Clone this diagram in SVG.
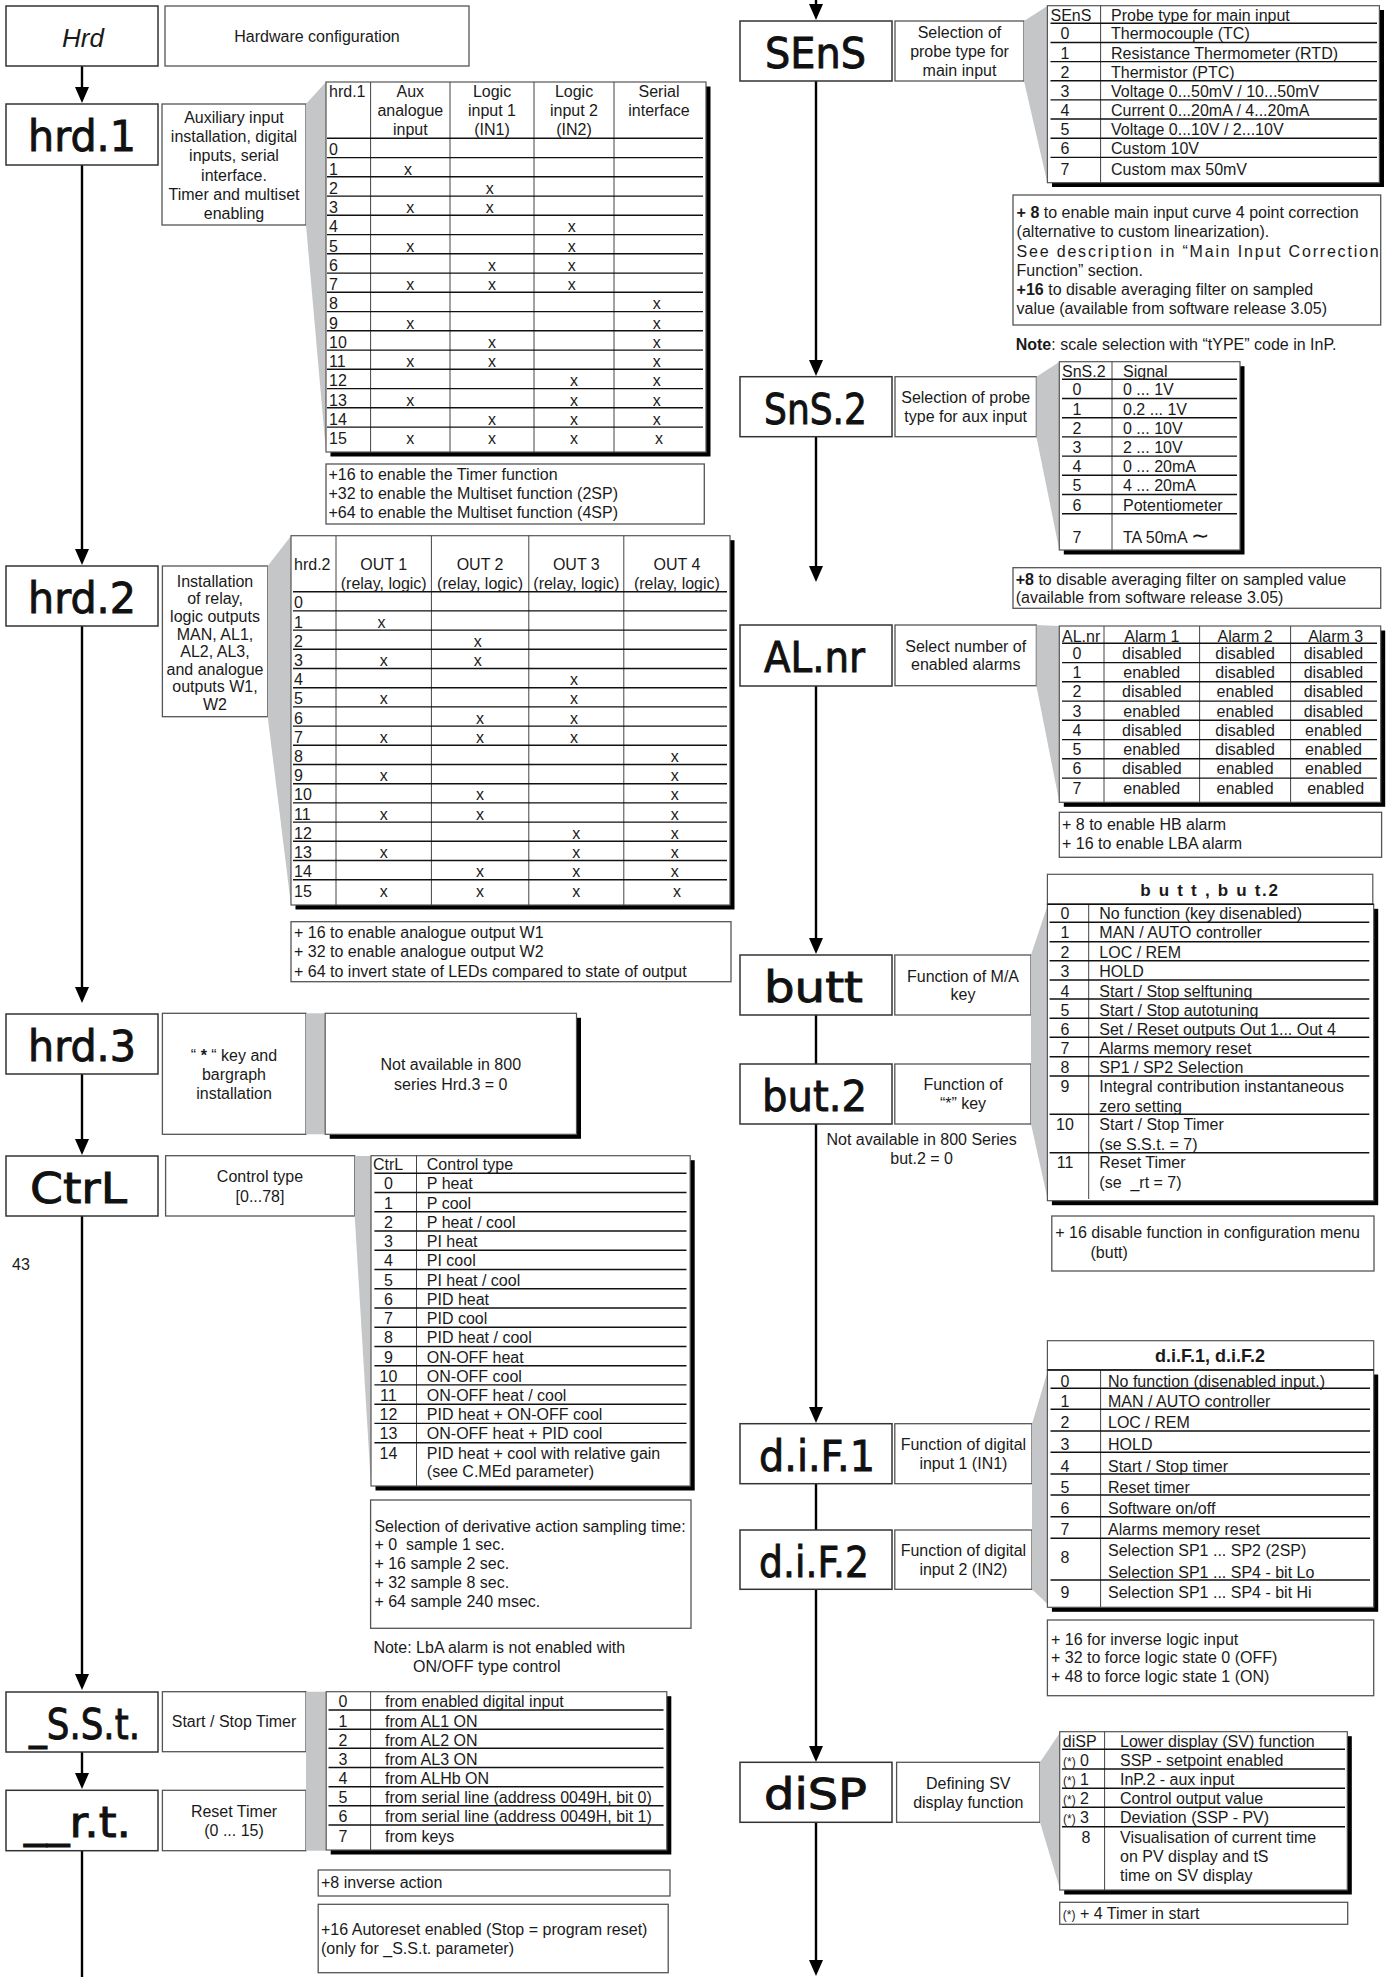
<svg xmlns="http://www.w3.org/2000/svg" width="1386" height="1977" viewBox="0 0 1386 1977">
<defs>
<style>
.t{font-family:"Liberation Sans",Arial,Helvetica,sans-serif;font-size:16px;fill:#1a1a1a}
.m{text-anchor:middle}
.b{font-weight:bold}
.sm{font-size:12px}
.seg{font-family:"DejaVu Sans",sans-serif;font-size:42px;fill:#111;stroke:#111;stroke-width:0.9}
.box{fill:#fff;stroke:#333;stroke-width:1.5}
.dsc{fill:#fff;stroke:#555;stroke-width:1.3}
.tb{fill:#fff;stroke:#555;stroke-width:1.2}
.sh{fill:#000}
.wg{fill:#c5c6c8}
.rl{stroke:#111;stroke-width:1.4;fill:none}
.cl{stroke:#444;stroke-width:1;fill:none}
.cn{stroke:#000;stroke-width:2.4;fill:none}
</style>
<marker id="ah" markerUnits="userSpaceOnUse" viewBox="0 0 16 14" markerWidth="16" markerHeight="14" refX="12" refY="7" orient="auto"><path d="M0,0 L16,7 L0,14 z" fill="#000"/></marker>
</defs>
<rect width="1386" height="1977" fill="#fff"/>

<g id="connectors" class="cn">
<path d="M82,66 V99" marker-end="url(#ah)"/>
<path d="M82,165 V561" marker-end="url(#ah)"/>
<path d="M82,626 V999" marker-end="url(#ah)"/>
<path d="M82,1074 V1151" marker-end="url(#ah)"/>
<path d="M82,1216 V1686" marker-end="url(#ah)"/>
<path d="M82,1752 V1785" marker-end="url(#ah)"/>
<path d="M82,1851 V1977"/>
<path d="M816,0 V16" marker-end="url(#ah)"/>
<path d="M816,81 V372" marker-end="url(#ah)"/>
<path d="M816,437 V578" marker-end="url(#ah)"/>
<path d="M816,686 V950" marker-end="url(#ah)"/>
<path d="M816,1015 V1064"/>
<path d="M816,1124 V1419" marker-end="url(#ah)"/>
<path d="M816,1484 V1530"/>
<path d="M816,1589 V1758" marker-end="url(#ah)"/>
<path d="M816,1822 V1972" marker-end="url(#ah)"/>
</g>

<!-- LEFT COLUMN -->
<g id="n-Hrd"><rect class="box" x="6" y="6" width="152" height="60"/><text class="t m" x="83" y="47" style="font-size:26px;font-style:italic">Hrd</text></g>
<g id="d-Hrd"><rect class="dsc" x="165" y="6" width="304" height="60"/><text class="t m" x="317" y="42">Hardware configuration</text></g>

<g id="n-hrd1"><rect class="box" x="6" y="104" width="152" height="61"/><text class="seg" x="28" y="151" textLength="108" lengthAdjust="spacingAndGlyphs">hrd.1</text></g>
<g id="d-hrd1"><rect class="dsc" x="162" y="104" width="144" height="121"/>
<text class="t m"><tspan x="234" y="123">Auxiliary input</tspan><tspan x="234" y="142.2">installation, digital</tspan><tspan x="234" y="161.4">inputs, serial</tspan><tspan x="234" y="180.6">interface.</tspan><tspan x="234" y="199.8">Timer and multiset</tspan><tspan x="234" y="219">enabling</tspan></text></g>
<g id="t-hrd1">
<polygon class="wg" points="306,104 326,82 326,452 306,225"/>
<rect class="sh" x="330.5" y="86.5" width="380" height="370"/>
<rect class="tb" x="326" y="82" width="380" height="370"/>
<path class="cl" d="M370.6,82V452M450,82V452M534,82V452M614,82V452"/>
<path class="rl" d="M327,138.3H703M327,157.6H703M327,176.8H703M327,196.1H703M327,215.3H703M327,234.6H703M327,253.8H703M327,273.1H703M327,292.3H703M327,311.6H703M327,330.8H703M327,350.1H703M327,369.3H703M327,388.6H703M327,407.8H703M327,427.1H703"/>
<text class="t" x="329" y="97">hrd.1</text>
<text class="t m"><tspan x="410.3" y="96.7">Aux</tspan><tspan x="410.3" y="115.7">analogue</tspan><tspan x="410.3" y="134.7">input</tspan></text>
<text class="t m"><tspan x="492" y="96.7">Logic</tspan><tspan x="492" y="115.7">input 1</tspan><tspan x="492" y="134.7">(IN1)</tspan></text>
<text class="t m"><tspan x="574" y="96.7">Logic</tspan><tspan x="574" y="115.7">input 2</tspan><tspan x="574" y="134.7">(IN2)</tspan></text>
<text class="t m"><tspan x="659" y="96.7">Serial</tspan><tspan x="659" y="115.7">interface</tspan></text>
<text class="t"><tspan x="329" y="155.3">0</tspan><tspan x="329" y="174.6">1</tspan><tspan x="329" y="193.8">2</tspan><tspan x="329" y="213.1">3</tspan><tspan x="329" y="232.3">4</tspan><tspan x="329" y="251.6">5</tspan><tspan x="329" y="270.8">6</tspan><tspan x="329" y="290.1">7</tspan><tspan x="329" y="309.3">8</tspan><tspan x="329" y="328.6">9</tspan><tspan x="329" y="347.8">10</tspan><tspan x="329" y="367.1">11</tspan><tspan x="329" y="386.3">12</tspan><tspan x="329" y="405.6">13</tspan><tspan x="329" y="424.8">14</tspan><tspan x="329" y="444.1">15</tspan></text>
<text class="t m">
<tspan x="410.3" y="174.6">x</tspan>
<tspan x="492" y="193.8">x</tspan>
<tspan x="410.3" y="213.1">x</tspan><tspan x="492" y="213.1">x</tspan>
<tspan x="574" y="232.3">x</tspan>
<tspan x="410.3" y="251.6">x</tspan><tspan x="574" y="251.6">x</tspan>
<tspan x="492" y="270.8">x</tspan><tspan x="574" y="270.8">x</tspan>
<tspan x="410.3" y="290.1">x</tspan><tspan x="492" y="290.1">x</tspan><tspan x="574" y="290.1">x</tspan>
<tspan x="659" y="309.3">x</tspan>
<tspan x="410.3" y="328.6">x</tspan><tspan x="659" y="328.6">x</tspan>
<tspan x="492" y="347.8">x</tspan><tspan x="659" y="347.8">x</tspan>
<tspan x="410.3" y="367.1">x</tspan><tspan x="492" y="367.1">x</tspan><tspan x="659" y="367.1">x</tspan>
<tspan x="574" y="386.3">x</tspan><tspan x="659" y="386.3">x</tspan>
<tspan x="410.3" y="405.6">x</tspan><tspan x="574" y="405.6">x</tspan><tspan x="659" y="405.6">x</tspan>
<tspan x="492" y="424.8">x</tspan><tspan x="574" y="424.8">x</tspan><tspan x="659" y="424.8">x</tspan>
<tspan x="410.3" y="444.1">x</tspan><tspan x="492" y="444.1">x</tspan><tspan x="574" y="444.1">x</tspan><tspan x="659" y="444.1">x</tspan>
</text>
</g>
<g id="note-hrd1"><rect class="dsc" x="326" y="464" width="378.3" height="60"/>
<text class="t"><tspan x="328.5" y="480">+16 to enable the Timer function</tspan><tspan x="328.5" y="499">+32 to enable the Multiset function (2SP)</tspan><tspan x="328.5" y="518">+64 to enable the Multiset function (4SP)</tspan></text></g>

<g id="n-hrd2"><rect class="box" x="6" y="566" width="152" height="60"/><text class="seg" x="28" y="613" textLength="108" lengthAdjust="spacingAndGlyphs">hrd.2</text></g>
<g id="d-hrd2"><rect class="dsc" x="162.4" y="566" width="105.3" height="150.7"/>
<text class="t m"><tspan x="215" y="586.7">Installation</tspan><tspan x="215" y="604.3">of relay,</tspan><tspan x="215" y="621.9">logic outputs</tspan><tspan x="215" y="639.5">MAN, AL1,</tspan><tspan x="215" y="657.1">AL2, AL3,</tspan><tspan x="215" y="674.7">and analogue</tspan><tspan x="215" y="692.3">outputs W1,</tspan><tspan x="215" y="709.9">W2</tspan></text></g>
<g id="t-hrd2">
<polygon class="wg" points="267.7,566 291,536 291,905 267.7,716.7"/>
<rect class="sh" x="295.5" y="540.2" width="439" height="369.3"/>
<rect class="tb" x="291" y="535.7" width="439" height="369.3"/>
<path class="cl" d="M336,535.7V905M431.4,535.7V905M528.8,535.7V905M623.8,535.7V905"/>
<path class="rl" d="M293,591.7H727M293,610.9H727M293,630.1H727M293,649.3H727M293,668.5H727M293,687.7H727M293,706.9H727M293,726.1H727M293,745.3H727M293,764.5H727M293,783.7H727M293,802.9H727M293,822.1H727M293,841.3H727M293,860.5H727M293,879.7H727"/>
<text class="t" x="294" y="570">hrd.2</text>
<text class="t m"><tspan x="383.7" y="570">OUT 1</tspan><tspan x="383.7" y="589.3">(relay, logic)</tspan></text>
<text class="t m"><tspan x="480.1" y="570">OUT 2</tspan><tspan x="480.1" y="589.3">(relay, logic)</tspan></text>
<text class="t m"><tspan x="576.3" y="570">OUT 3</tspan><tspan x="576.3" y="589.3">(relay, logic)</tspan></text>
<text class="t m"><tspan x="676.9" y="570">OUT 4</tspan><tspan x="676.9" y="589.3">(relay, logic)</tspan></text>
<text class="t"><tspan x="294" y="608.4">0</tspan><tspan x="294" y="627.6">1</tspan><tspan x="294" y="646.8">2</tspan><tspan x="294" y="666">3</tspan><tspan x="294" y="685.2">4</tspan><tspan x="294" y="704.4">5</tspan><tspan x="294" y="723.6">6</tspan><tspan x="294" y="742.8">7</tspan><tspan x="294" y="762">8</tspan><tspan x="294" y="781.2">9</tspan><tspan x="294" y="800.4">10</tspan><tspan x="294" y="819.6">11</tspan><tspan x="294" y="838.8">12</tspan><tspan x="294" y="858">13</tspan><tspan x="294" y="877.2">14</tspan><tspan x="294" y="897">15</tspan></text>
<text class="t m">
<tspan x="383.7" y="627.6">x</tspan>
<tspan x="480.1" y="646.8">x</tspan>
<tspan x="383.7" y="666">x</tspan><tspan x="480.1" y="666">x</tspan>
<tspan x="576.3" y="685.2">x</tspan>
<tspan x="383.7" y="704.4">x</tspan><tspan x="576.3" y="704.4">x</tspan>
<tspan x="480.1" y="723.6">x</tspan><tspan x="576.3" y="723.6">x</tspan>
<tspan x="383.7" y="742.8">x</tspan><tspan x="480.1" y="742.8">x</tspan><tspan x="576.3" y="742.8">x</tspan>
<tspan x="676.9" y="762">x</tspan>
<tspan x="383.7" y="781.2">x</tspan><tspan x="676.9" y="781.2">x</tspan>
<tspan x="480.1" y="800.4">x</tspan><tspan x="676.9" y="800.4">x</tspan>
<tspan x="383.7" y="819.6">x</tspan><tspan x="480.1" y="819.6">x</tspan><tspan x="676.9" y="819.6">x</tspan>
<tspan x="576.3" y="838.8">x</tspan><tspan x="676.9" y="838.8">x</tspan>
<tspan x="383.7" y="858">x</tspan><tspan x="576.3" y="858">x</tspan><tspan x="676.9" y="858">x</tspan>
<tspan x="480.1" y="877.2">x</tspan><tspan x="576.3" y="877.2">x</tspan><tspan x="676.9" y="877.2">x</tspan>
<tspan x="383.7" y="897">x</tspan><tspan x="480.1" y="897">x</tspan><tspan x="576.3" y="897">x</tspan><tspan x="676.9" y="897">x</tspan>
</text>
</g>
<g id="note-hrd2"><rect class="dsc" x="291" y="921.7" width="440" height="60"/>
<text class="t"><tspan x="294" y="938.3">+ 16 to enable analogue output W1</tspan><tspan x="294" y="957.3">+ 32 to enable analogue output W2</tspan><tspan x="294" y="976.7">+ 64 to invert state of LEDs compared to state of output</tspan></text></g>

<g id="n-hrd3"><rect class="box" x="6" y="1014" width="152" height="60"/><text class="seg" x="28" y="1061" textLength="108" lengthAdjust="spacingAndGlyphs">hrd.3</text></g>
<g id="d-hrd3"><rect class="dsc" x="162.4" y="1013.3" width="143.6" height="121"/>
<text class="t m"><tspan x="234" y="1061">“ <tspan class="b">*</tspan> “ key and</tspan><tspan x="234" y="1080">bargraph</tspan><tspan x="234" y="1099">installation</tspan></text></g>
<g id="t-hrd3">
<rect class="wg" x="306" y="1013.3" width="19.2" height="121"/>
<rect class="sh" x="329.7" y="1017.8" width="251.3" height="121"/>
<rect class="tb" x="325.2" y="1013.3" width="251.3" height="121"/>
<text class="t m"><tspan x="450.8" y="1070">Not available in 800</tspan><tspan x="450.8" y="1090">series Hrd.3 = 0</tspan></text>
</g>

<g id="n-CtrL"><rect class="box" x="6" y="1156" width="152" height="60"/><text class="seg" x="30" y="1203" textLength="97" lengthAdjust="spacingAndGlyphs">CtrL</text></g>
<g id="d-CtrL"><rect class="dsc" x="165.6" y="1155.7" width="189.1" height="60.3"/>
<text class="t m"><tspan x="260" y="1181.7">Control type</tspan><tspan x="260" y="1201.7">[0...78]</tspan></text></g>
<g id="t-CtrL">
<polygon class="wg" points="354.7,1156 371,1156 371,1486 354.7,1216"/>
<rect class="sh" x="375.5" y="1160.2" width="319.2" height="330.3"/>
<rect class="tb" x="371" y="1155.7" width="319.2" height="330.3"/>
<path class="cl" d="M416.5,1155.7V1486"/>
<path class="rl" d="M374.4,1173.3H686.5M374.4,1192.5H686.5M374.4,1211.8H686.5M374.4,1231H686.5M374.4,1250.3H686.5M374.4,1269.5H686.5M374.4,1288.7H686.5M374.4,1308H686.5M374.4,1327.2H686.5M374.4,1346.5H686.5M374.4,1365.7H686.5M374.4,1384.9H686.5M374.4,1404.2H686.5M374.4,1423.4H686.5M374.4,1442.7H686.5"/>
<text class="t" x="373" y="1170">CtrL</text><text class="t" x="426.8" y="1170">Control type</text>
<text class="t m"><tspan x="388.4" y="1189.3">0</tspan><tspan x="388.4" y="1208.5">1</tspan><tspan x="388.4" y="1227.8">2</tspan><tspan x="388.4" y="1247">3</tspan><tspan x="388.4" y="1266.3">4</tspan><tspan x="388.4" y="1285.5">5</tspan><tspan x="388.4" y="1304.7">6</tspan><tspan x="388.4" y="1324">7</tspan><tspan x="388.4" y="1343.2">8</tspan><tspan x="388.4" y="1362.5">9</tspan><tspan x="388.4" y="1381.7">10</tspan><tspan x="388.4" y="1400.9">11</tspan><tspan x="388.4" y="1420.2">12</tspan><tspan x="388.4" y="1439.4">13</tspan><tspan x="388.4" y="1458.7">14</tspan></text>
<text class="t"><tspan x="426.8" y="1189.3">P heat</tspan><tspan x="426.8" y="1208.5">P cool</tspan><tspan x="426.8" y="1227.8">P heat / cool</tspan><tspan x="426.8" y="1247">PI heat</tspan><tspan x="426.8" y="1266.3">PI cool</tspan><tspan x="426.8" y="1285.5">PI heat / cool</tspan><tspan x="426.8" y="1304.7">PID heat</tspan><tspan x="426.8" y="1324">PID cool</tspan><tspan x="426.8" y="1343.2">PID heat / cool</tspan><tspan x="426.8" y="1362.5">ON-OFF heat</tspan><tspan x="426.8" y="1381.7">ON-OFF cool</tspan><tspan x="426.8" y="1400.9">ON-OFF heat / cool</tspan><tspan x="426.8" y="1420.2">PID heat + ON-OFF cool</tspan><tspan x="426.8" y="1439.4">ON-OFF heat + PID cool</tspan><tspan x="426.8" y="1458.7">PID heat + cool with relative gain</tspan><tspan x="426.8" y="1477.3">(see C.MEd parameter)</tspan></text>
</g>
<g id="note-CtrL"><rect class="dsc" x="370.6" y="1500" width="320.4" height="128.3"/>
<text class="t" xml:space="preserve"><tspan x="374.4" y="1531.7">Selection of derivative action sampling time:</tspan><tspan x="374.4" y="1550">+ 0  sample 1 sec.</tspan><tspan x="374.4" y="1569.3">+ 16 sample 2 sec.</tspan><tspan x="374.4" y="1588.3">+ 32 sample 8 sec.</tspan><tspan x="374.4" y="1607.3">+ 64 sample 240 msec.</tspan></text></g>
<text class="t"><tspan x="373.4" y="1653.3">Note: LbA alarm is not enabled with</tspan><tspan x="413" y="1671.7">ON/OFF type control</tspan></text>
<text class="t" x="12" y="1270">43</text>

<g id="n-SSt"><rect class="box" x="6" y="1692" width="152" height="60"/><text class="seg" x="29" y="1739" textLength="111" lengthAdjust="spacingAndGlyphs">_S.S.t.</text></g>
<g id="d-SSt"><rect class="dsc" x="162.4" y="1691.7" width="143.6" height="60"/><text class="t m" x="234" y="1727.3">Start / Stop Timer</text></g>
<g id="n-rt"><rect class="box" x="6" y="1790.3" width="152" height="60.4"/><text class="seg" x="24" y="1837" textLength="107" lengthAdjust="spacingAndGlyphs">__r.t.</text></g>
<g id="d-rt"><rect class="dsc" x="162.4" y="1790.3" width="143.6" height="60.4"/>
<text class="t m"><tspan x="234" y="1816.7">Reset Timer</tspan><tspan x="234" y="1835.7">(0 ... 15)</tspan></text></g>
<g id="t-SSt">
<rect class="wg" x="306" y="1691.7" width="20.2" height="159"/>
<rect class="sh" x="330.7" y="1696.2" width="340.6" height="158.3"/>
<rect class="tb" x="326.2" y="1691.7" width="340.6" height="158.3"/>
<path class="cl" d="M370.6,1691.7V1850"/>
<path class="rl" d="M328.5,1710H663.5M328.5,1729.2H663.5M328.5,1748.3H663.5M328.5,1767.5H663.5M328.5,1786.7H663.5M328.5,1805.8H663.5M328.5,1825H663.5"/>
<text class="t m"><tspan x="343" y="1707.3">0</tspan><tspan x="343" y="1726.5">1</tspan><tspan x="343" y="1745.6">2</tspan><tspan x="343" y="1764.8">3</tspan><tspan x="343" y="1784">4</tspan><tspan x="343" y="1803.1">5</tspan><tspan x="343" y="1822.3">6</tspan><tspan x="343" y="1841.5">7</tspan></text>
<text class="t"><tspan x="385" y="1707.3">from enabled digital input</tspan><tspan x="385" y="1726.5">from AL1 ON</tspan><tspan x="385" y="1745.6">from AL2 ON</tspan><tspan x="385" y="1764.8">from AL3 ON</tspan><tspan x="385" y="1784">from ALHb ON</tspan><tspan x="385" y="1803.1">from serial line (address 0049H, bit 0)</tspan><tspan x="385" y="1822.3">from serial line (address 0049H, bit 1)</tspan><tspan x="385" y="1841.5">from keys</tspan></text>
</g>
<g id="note-SSt1"><rect class="dsc" x="318.2" y="1870" width="351.8" height="26"/><text class="t" x="321" y="1888.3">+8 inverse action</text></g>
<g id="note-SSt2"><rect class="dsc" x="318.2" y="1904.3" width="350" height="68.4"/>
<text class="t"><tspan x="321" y="1935">+16 Autoreset enabled (Stop = program reset)</tspan><tspan x="321" y="1954">(only for _S.S.t. parameter)</tspan></text></g>

<!-- RIGHT COLUMN -->
<g id="n-SEnS"><rect class="box" x="740" y="21" width="152" height="60"/><text class="seg" x="765" y="68" textLength="101" lengthAdjust="spacingAndGlyphs">SEnS</text></g>
<g id="d-SEnS"><rect class="dsc" x="895" y="21" width="129" height="60"/>
<text class="t m"><tspan x="959.5" y="37.7">Selection of</tspan><tspan x="959.5" y="56.7">probe type for</tspan><tspan x="959.5" y="76">main input</tspan></text></g>
<g id="t-SEnS">
<polygon class="wg" points="1024,21 1047.4,6 1047.4,183 1024,81"/>
<rect class="sh" x="1052" y="10" width="332" height="177"/>
<rect class="tb" x="1047.4" y="5.7" width="332" height="177"/>
<path class="cl" d="M1100.6,5.7V182.7"/>
<path class="rl" d="M1050.5,23.3H1377M1050.5,42.45H1377M1050.5,61.6H1377M1050.5,80.75H1377M1050.5,99.9H1377M1050.5,119.05H1377M1050.5,138.2H1377M1050.5,157.35H1377"/>
<text class="t" x="1050.5" y="20.7">SEnS</text><text class="t" x="1111" y="20.7">Probe type for main input</text>
<text class="t m"><tspan x="1065" y="39.3">0</tspan><tspan x="1065" y="58.5">1</tspan><tspan x="1065" y="77.6">2</tspan><tspan x="1065" y="96.8">3</tspan><tspan x="1065" y="115.9">4</tspan><tspan x="1065" y="135.1">5</tspan><tspan x="1065" y="154.2">6</tspan><tspan x="1065" y="175">7</tspan></text>
<text class="t"><tspan x="1111" y="39.3">Thermocouple (TC)</tspan><tspan x="1111" y="58.5">Resistance Thermometer (RTD)</tspan><tspan x="1111" y="77.6">Thermistor (PTC)</tspan><tspan x="1111" y="96.8">Voltage 0...50mV / 10...50mV</tspan><tspan x="1111" y="115.9">Current 0...20mA / 4...20mA</tspan><tspan x="1111" y="135.1">Voltage 0...10V / 2...10V</tspan><tspan x="1111" y="154.2">Custom 10V</tspan><tspan x="1111" y="175">Custom max 50mV</tspan></text>
</g>
<g id="note-SEnS"><rect class="dsc" x="1013" y="195" width="367.7" height="130"/>
<text class="t" x="1016.6" y="218.3"><tspan class="b">+ 8</tspan> to enable main input curve 4 point correction</text>
<text class="t" x="1016.6" y="237.3">(alternative to custom linearization).</text>
<text class="t" x="1016.6" y="256.7" textLength="362" lengthAdjust="spacing">See description in “Main Input Correction</text>
<text class="t" x="1016.6" y="275.7">Function” section.</text>
<text class="t" x="1016.6" y="295"><tspan class="b">+16</tspan> to disable averaging filter on sampled</text>
<text class="t" x="1016.6" y="314">value (available from software release 3.05)</text>
</g>
<text class="t" x="1015.7" y="350"><tspan class="b">Note</tspan>: scale selection with “tYPE” code in InP.</text>

<g id="n-SnS2"><rect class="box" x="740" y="376.7" width="152" height="60"/><text class="seg" x="764" y="424" textLength="103" lengthAdjust="spacingAndGlyphs">SnS.2</text></g>
<g id="d-SnS2"><rect class="dsc" x="895" y="376.7" width="141.4" height="60"/>
<text class="t m"><tspan x="965.7" y="402.7">Selection of probe</tspan><tspan x="965.7" y="421.7">type for aux input</tspan></text></g>
<g id="t-SnS2">
<polygon class="wg" points="1036.4,376.7 1059.3,362 1059.3,550 1036.4,436.7"/>
<rect class="sh" x="1063.8" y="366.2" width="180.7" height="188.3"/>
<rect class="tb" x="1059.3" y="361.7" width="180.7" height="188.3"/>
<path class="cl" d="M1112,361.7V550"/>
<path class="rl" d="M1062,379.3H1237M1062,398.5H1237M1062,417.7H1237M1062,436.9H1237M1062,456.1H1237M1062,475.3H1237M1062,494.5H1237M1062,513.7H1237"/>
<text class="t" x="1062" y="376.7">SnS.2</text><text class="t" x="1123" y="376.7">Signal</text>
<text class="t m"><tspan x="1077" y="395.3">0</tspan><tspan x="1077" y="414.5">1</tspan><tspan x="1077" y="433.7">2</tspan><tspan x="1077" y="452.9">3</tspan><tspan x="1077" y="472.1">4</tspan><tspan x="1077" y="491.3">5</tspan><tspan x="1077" y="510.5">6</tspan><tspan x="1077" y="543">7</tspan></text>
<text class="t"><tspan x="1123" y="395.3">0 ... 1V</tspan><tspan x="1123" y="414.5">0.2 ... 1V</tspan><tspan x="1123" y="433.7">0 ... 10V</tspan><tspan x="1123" y="452.9">2 ... 10V</tspan><tspan x="1123" y="472.1">0 ... 20mA</tspan><tspan x="1123" y="491.3">4 ... 20mA</tspan><tspan x="1123" y="510.5">Potentiometer</tspan><tspan x="1123" y="543">TA 50mA <tspan style="font-size:22px">∼</tspan></tspan></text>
</g>
<g id="note-SnS2"><rect class="dsc" x="1013" y="567.7" width="367.7" height="40.6"/>
<text class="t"><tspan x="1015.7" y="585"><tspan class="b">+8</tspan> to disable averaging filter on sampled value</tspan><tspan x="1015.7" y="603.3">(available from software release 3.05)</tspan></text></g>

<g id="n-ALnr"><rect class="box" x="740" y="625" width="152" height="61"/><text class="seg" x="764" y="672" textLength="101" lengthAdjust="spacingAndGlyphs">AL.nr</text></g>
<g id="d-ALnr"><rect class="dsc" x="895" y="625" width="141.4" height="60.7"/>
<text class="t m"><tspan x="965.7" y="651.7">Select number of</tspan><tspan x="965.7" y="670">enabled alarms</tspan></text></g>
<g id="t-ALnr">
<polygon class="wg" points="1036.4,625 1059.3,626 1059.3,802 1036.4,686"/>
<rect class="sh" x="1063.8" y="630.5" width="321.4" height="176.3"/>
<rect class="tb" x="1059.3" y="626" width="321.4" height="176.3"/>
<path class="cl" d="M1104,626V802.3M1199.6,626V802.3M1290.6,626V802.3"/>
<path class="rl" d="M1062,643.3H1377M1062,662.6H1377M1062,681.8H1377M1062,701.1H1377M1062,720.3H1377M1062,739.6H1377M1062,758.8H1377M1062,778.1H1377"/>
<text class="t" x="1062" y="641.7">AL.nr</text>
<text class="t m"><tspan x="1151.8" y="641.7">Alarm 1</tspan><tspan x="1245.1" y="641.7">Alarm 2</tspan><tspan x="1335.7" y="641.7">Alarm 3</tspan></text>
<text class="t m"><tspan x="1077" y="658.8">0</tspan><tspan x="1077" y="678.1">1</tspan><tspan x="1077" y="697.3">2</tspan><tspan x="1077" y="716.6">3</tspan><tspan x="1077" y="735.8">4</tspan><tspan x="1077" y="755.1">5</tspan><tspan x="1077" y="774.3">6</tspan><tspan x="1077" y="793.6">7</tspan></text>
<text class="t m">
<tspan x="1151.8" y="658.8">disabled</tspan><tspan x="1245.1" y="658.8">disabled</tspan><tspan x="1335.7" y="658.8">disabled</tspan>
<tspan x="1151.8" y="678.1">enabled</tspan><tspan x="1245.1" y="678.1">disabled</tspan><tspan x="1335.7" y="678.1">disabled</tspan>
<tspan x="1151.8" y="697.3">disabled</tspan><tspan x="1245.1" y="697.3">enabled</tspan><tspan x="1335.7" y="697.3">disabled</tspan>
<tspan x="1151.8" y="716.6">enabled</tspan><tspan x="1245.1" y="716.6">enabled</tspan><tspan x="1335.7" y="716.6">disabled</tspan>
<tspan x="1151.8" y="735.8">disabled</tspan><tspan x="1245.1" y="735.8">disabled</tspan><tspan x="1335.7" y="735.8">enabled</tspan>
<tspan x="1151.8" y="755.1">enabled</tspan><tspan x="1245.1" y="755.1">disabled</tspan><tspan x="1335.7" y="755.1">enabled</tspan>
<tspan x="1151.8" y="774.3">disabled</tspan><tspan x="1245.1" y="774.3">enabled</tspan><tspan x="1335.7" y="774.3">enabled</tspan>
<tspan x="1151.8" y="793.6">enabled</tspan><tspan x="1245.1" y="793.6">enabled</tspan><tspan x="1335.7" y="793.6">enabled</tspan>
</text>
</g>
<g id="note-ALnr"><rect class="dsc" x="1059.3" y="812.3" width="322.3" height="45"/>
<text class="t"><tspan x="1062" y="830">+ 8 to enable HB alarm</tspan><tspan x="1062" y="849">+ 16 to enable LBA alarm</tspan></text></g>

<g id="n-butt"><rect class="box" x="740" y="955" width="152" height="60"/><text class="seg" x="764" y="1002" textLength="99" lengthAdjust="spacingAndGlyphs">butt</text></g>
<g id="d-butt"><rect class="dsc" x="894.8" y="955" width="136.2" height="60"/>
<text class="t m"><tspan x="963" y="981.7">Function of M/A</tspan><tspan x="963" y="1000">key</tspan></text></g>
<g id="n-but2"><rect class="box" x="740" y="1064" width="152" height="60"/><text class="seg" x="762" y="1111" textLength="105" lengthAdjust="spacingAndGlyphs">but.2</text></g>
<g id="d-but2"><rect class="dsc" x="894.8" y="1064" width="136.2" height="60"/>
<text class="t m"><tspan x="963" y="1090">Function of</tspan><tspan x="963" y="1109">“*” key</tspan></text></g>
<text class="t m"><tspan x="921.6" y="1145">Not available in 800 Series</tspan><tspan x="921.6" y="1164">but.2 = 0</tspan></text>
<g id="t-butt">
<polygon class="wg" points="1031,955 1047.4,906 1047.4,1198 1031,1124"/>
<rect class="tb" x="1047.4" y="874.3" width="325.4" height="30"/>
<text class="t b m" x="1210" y="896" style="font-size:17px;letter-spacing:1.7px">b u t t , b u t.2</text>
<rect class="sh" x="1051.9" y="908.8" width="326.3" height="296.4"/>
<rect class="tb" x="1047.4" y="904.3" width="326.3" height="296.4"/>
<path class="cl" d="M1088.7,904.3V1199"/>
<path class="rl" d="M1047.4,904.3H1373.7M1049.6,922.3H1369.3M1049.6,941.7H1369.3M1049.6,960.7H1369.3M1049.6,980H1369.3M1049.6,999H1369.3M1049.6,1018.3H1369.3M1049.6,1037.3H1369.3M1049.6,1056.7H1369.3M1049.6,1076H1369.3M1049.6,1114.3H1369.3M1049.6,1152.7H1369.3"/>
<text class="t m"><tspan x="1065" y="919.3">0</tspan><tspan x="1065" y="938.3">1</tspan><tspan x="1065" y="957.7">2</tspan><tspan x="1065" y="976.7">3</tspan><tspan x="1065" y="996.7">4</tspan><tspan x="1065" y="1016">5</tspan><tspan x="1065" y="1035">6</tspan><tspan x="1065" y="1054">7</tspan><tspan x="1065" y="1073.3">8</tspan><tspan x="1065" y="1091.7">9</tspan><tspan x="1065" y="1130">10</tspan><tspan x="1065" y="1168.3">11</tspan></text>
<text class="t" xml:space="preserve"><tspan x="1099.3" y="919.3">No function (key disenabled)</tspan><tspan x="1099.3" y="938.3">MAN / AUTO controller</tspan><tspan x="1099.3" y="957.7">LOC / REM</tspan><tspan x="1099.3" y="976.7">HOLD</tspan><tspan x="1099.3" y="996.7">Start / Stop selftuning</tspan><tspan x="1099.3" y="1016">Start / Stop autotuning</tspan><tspan x="1099.3" y="1035">Set / Reset outputs Out 1... Out 4</tspan><tspan x="1099.3" y="1054">Alarms memory reset</tspan><tspan x="1099.3" y="1073.3">SP1 / SP2 Selection</tspan><tspan x="1099.3" y="1091.7">Integral contribution instantaneous</tspan><tspan x="1099.3" y="1111.7">zero setting</tspan><tspan x="1099.3" y="1130">Start / Stop Timer</tspan><tspan x="1099.3" y="1150">(se S.S.t. = 7)</tspan><tspan x="1099.3" y="1168.3">Reset Timer</tspan><tspan x="1099.3" y="1188.3">(se  _rt = 7)</tspan></text>
</g>
<g id="note-butt"><rect class="dsc" x="1051.8" y="1216" width="322.2" height="55"/>
<text class="t"><tspan x="1055.3" y="1238.3">+ 16 disable function in configuration menu</tspan><tspan x="1090.5" y="1258.3">(butt)</tspan></text></g>

<g id="n-dif1"><rect class="box" x="740" y="1423.7" width="152" height="60"/><text class="seg" x="759" y="1471" textLength="116" lengthAdjust="spacingAndGlyphs">d.i.F.1</text></g>
<g id="d-dif1"><rect class="dsc" x="894.8" y="1423.7" width="137.2" height="60"/>
<text class="t m"><tspan x="963.4" y="1450">Function of digital</tspan><tspan x="963.4" y="1469">input 1 (IN1)</tspan></text></g>
<g id="n-dif2"><rect class="box" x="740" y="1530" width="152" height="59.3"/><text class="seg" x="759" y="1577" textLength="110" lengthAdjust="spacingAndGlyphs">d.i.F.2</text></g>
<g id="d-dif2"><rect class="dsc" x="894.8" y="1530" width="137.2" height="59.3"/>
<text class="t m"><tspan x="963.4" y="1556">Function of digital</tspan><tspan x="963.4" y="1575">input 2 (IN2)</tspan></text></g>
<g id="t-dif">
<polygon class="wg" points="1032,1424 1047.4,1372 1047.4,1604 1032,1589.3"/>
<rect class="tb" x="1047.4" y="1340.7" width="326.3" height="29.3"/>
<text class="t b m" x="1210" y="1361.7" style="font-size:18px">d.i.F.1, d.i.F.2</text>
<rect class="sh" x="1051.9" y="1374.5" width="326.3" height="237.3"/>
<rect class="tb" x="1047.4" y="1370" width="326.3" height="237.3"/>
<path class="cl" d="M1100.6,1370V1607.3"/>
<path class="rl" d="M1047.4,1370H1373.7M1050.5,1388.3H1370M1050.5,1409.3H1370M1050.5,1431H1370M1050.5,1452.3H1370M1050.5,1474H1370M1050.5,1495H1370M1050.5,1516.7H1370M1050.5,1538.3H1370M1050.5,1580H1370"/>
<text class="t m"><tspan x="1065" y="1386.7">0</tspan><tspan x="1065" y="1407.3">1</tspan><tspan x="1065" y="1428.3">2</tspan><tspan x="1065" y="1450">3</tspan><tspan x="1065" y="1471.7">4</tspan><tspan x="1065" y="1492.7">5</tspan><tspan x="1065" y="1514.3">6</tspan><tspan x="1065" y="1535">7</tspan><tspan x="1065" y="1563.3">8</tspan><tspan x="1065" y="1598.3">9</tspan></text>
<text class="t"><tspan x="1108" y="1386.7">No function (disenabled input.)</tspan><tspan x="1108" y="1407.3">MAN / AUTO controller</tspan><tspan x="1108" y="1428.3">LOC / REM</tspan><tspan x="1108" y="1450">HOLD</tspan><tspan x="1108" y="1471.7">Start / Stop timer</tspan><tspan x="1108" y="1492.7">Reset timer</tspan><tspan x="1108" y="1514.3">Software on/off</tspan><tspan x="1108" y="1535">Alarms memory reset</tspan><tspan x="1108" y="1556">Selection SP1 ... SP2 (2SP)</tspan><tspan x="1108" y="1577.7">Selection SP1 ... SP4 - bit Lo</tspan><tspan x="1108" y="1598.3">Selection SP1 ... SP4 - bit Hi</tspan></text>
</g>
<g id="note-dif"><rect class="dsc" x="1047.4" y="1620" width="326.3" height="75.7"/>
<text class="t"><tspan x="1051" y="1645">+ 16 for inverse logic input</tspan><tspan x="1051" y="1663.3">+ 32 to force logic state 0 (OFF)</tspan><tspan x="1051" y="1682.3">+ 48 to force logic state 1 (ON)</tspan></text></g>

<g id="n-diSP"><rect class="box" x="740" y="1762.3" width="152" height="60"/><text class="seg" x="764" y="1809" textLength="103" lengthAdjust="spacingAndGlyphs">diSP</text></g>
<g id="d-diSP"><rect class="dsc" x="896.6" y="1762.3" width="143.4" height="60"/>
<text class="t m"><tspan x="968.3" y="1789.3">Defining SV</tspan><tspan x="968.3" y="1808.3">display function</tspan></text></g>
<g id="t-diSP">
<polygon class="wg" points="1040,1762.3 1059.7,1733 1059.7,1888 1040,1822.3"/>
<rect class="sh" x="1064.2" y="1736.2" width="287.6" height="158.3"/>
<rect class="tb" x="1059.7" y="1731.7" width="287.6" height="158.3"/>
<path class="cl" d="M1104.6,1731.7V1890"/>
<path class="rl" d="M1062,1749.3H1345M1062,1769H1345M1062,1788.3H1345M1062,1807.3H1345M1062,1826.7H1345"/>
<text class="t" x="1062.8" y="1746.7">diSP</text><text class="t" x="1120" y="1746.7">Lower display (SV) function</text>
<text class="t"><tspan x="1063" y="1766"><tspan class="sm">(*)</tspan> 0</tspan><tspan x="1063" y="1785"><tspan class="sm">(*)</tspan> 1</tspan><tspan x="1063" y="1804.3"><tspan class="sm">(*)</tspan> 2</tspan><tspan x="1063" y="1823.3"><tspan class="sm">(*)</tspan> 3</tspan></text>
<text class="t m" x="1086" y="1842.7">8</text>
<text class="t"><tspan x="1120" y="1766">SSP - setpoint enabled</tspan><tspan x="1120" y="1785">InP.2 - aux input</tspan><tspan x="1120" y="1804.3">Control output value</tspan><tspan x="1120" y="1823.3">Deviation (SSP - PV)</tspan><tspan x="1120" y="1842.7">Visualisation of current time</tspan><tspan x="1120" y="1861.7">on PV display and tS</tspan><tspan x="1120" y="1880.7">time on SV display</tspan></text>
</g>
<g id="note-diSP"><rect class="dsc" x="1059.7" y="1902.3" width="288" height="22"/>
<text class="t" x="1062.8" y="1919.3"><tspan class="sm">(*)</tspan> + 4 Timer in start</text></g>
</svg>
